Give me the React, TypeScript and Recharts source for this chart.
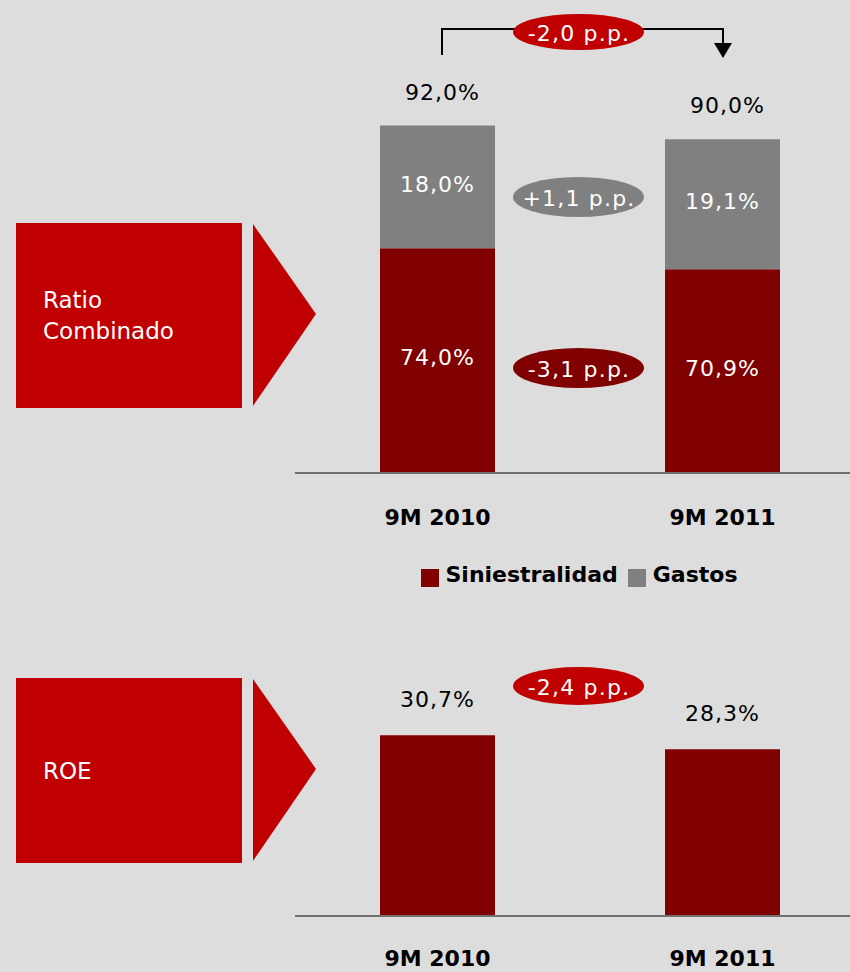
import React from "react";
import { BarChart, Bar, XAxis, YAxis, LabelList, Legend } from "recharts";

// categories and values
const categories = ["9M 2010", "9M 2011"];
const siniestralidad = [74.0, 70.9];
const gastos = [18.0, 19.1];
const totals = [92.0, 90.0];
const roe = [30.7, 28.3];
const seriesOrder = ["Siniestralidad", "Gastos"];

const deltaTotal = "-2,0 p.p.";
const deltaGastos = "+1,1 p.p.";
const deltaSiniestralidad = "-3,1 p.p.";
const deltaRoe = "-2,4 p.p.";

const RED = "#c00000";
const DARK_RED = "#800000";
const GRAY = "#808080";
const BG = "#dddddd";
const FONT = "'DejaVu Sans', sans-serif";

const ratioData = categories.map((name, i) => ({
    name,
    siniestralidad: siniestralidad[i],
    gastos: gastos[i],
    total: totals[i],
}));

const roeData = categories.map((name, i) => ({ name, roe: roe[i] }));

const fmt = (v: any) => `${Number(v).toFixed(1).replace(".", ",")}%`;

const tickStyle = { fill: "#000", fontSize: 22, fontWeight: "bold", fontFamily: FONT };
const innerLabel = { fill: "#fff", fontSize: 22, fontFamily: FONT, letterSpacing: 1 };
const outerLabel = { fill: "#000", fontSize: 22, fontFamily: FONT, letterSpacing: 1 };

function SectionBox({ top, lines }: { top: number; lines: string[] }) {
    return (
        <g>
            <rect x={16} y={top} width={226} height={185} fill={RED} />
            <polygon
                points={`253,${top + 1} 316,${top + 91} 253,${top + 183}`}
                fill={RED}
            />
            {lines.map((l, i) => (
                <text
                    key={l}
                    x={43}
                    y={top + 85 + i * 31 + (lines.length === 1 ? 16 : 0)}
                    fill="#fff"
                    fontSize={23}
                    fontFamily={FONT}
                >
                    {l}
                </text>
            ))}
        </g>
    );
}

function Pill({ cy, ry, fill, text }: { cy: number; ry: number; fill: string; text: string }) {
    return (
        <g>
            <ellipse cx={578.5} cy={cy} rx={65.5} ry={ry} fill={fill} />
            <text
                x={579}
                y={cy + 1}
                textAnchor="middle"
                dominantBaseline="central"
                fill="#fff"
                fontSize={22}
                fontFamily={FONT}
                letterSpacing={1.2}
            >
                {text}
            </text>
        </g>
    );
}

export default function App() {
    return (
        <div
            style={{
                position: "fixed",
                left: 0,
                top: 0,
                width: 850,
                height: 972,
                background: BG,
                overflow: "hidden",
                fontFamily: FONT,
            }}
        >
            <div style={{ position: "absolute", left: 295, top: 0 }}>
                <BarChart
                    width={570}
                    height={600}
                    data={ratioData}
                    margin={{ top: 3, right: 0, left: 0, bottom: 0 }}
                >
                    <XAxis
                        dataKey="name"
                        height={127}
                        tickLine={false}
                        tickMargin={30}
                        axisLine={{ stroke: "#707070", strokeWidth: 2 }}
                        tick={tickStyle}
                    />
                    <YAxis hide domain={[41, 110]} allowDataOverflow />
                    <Legend
                        verticalAlign="middle"
                        iconType="square"
                        iconSize={18}
                        itemSorter={(item: any) => seriesOrder.indexOf(item.value)}
                        wrapperStyle={{ top: 562, left: 4, width: 570 }}
                        formatter={(value: string) => (
                            <span
                                style={{
                                    color: "#000",
                                    fontWeight: "bold",
                                    fontSize: 22,
                                    fontFamily: FONT,
                                    paddingLeft: 3,
                                }}
                            >
                                {value}
                            </span>
                        )}
                    />
                    <Bar
                        dataKey="siniestralidad"
                        name="Siniestralidad"
                        stackId="a"
                        fill={DARK_RED}
                        barSize={115}
                        isAnimationActive={false}
                    >
                        <LabelList dataKey="siniestralidad" position="center" dy={-3} formatter={fmt} style={innerLabel} />
                    </Bar>
                    <Bar
                        dataKey="gastos"
                        name="Gastos"
                        stackId="a"
                        fill={GRAY}
                        barSize={115}
                        isAnimationActive={false}
                    >
                        <LabelList dataKey="gastos" position="center" dy={-3} formatter={fmt} style={innerLabel} />
                        <LabelList dataKey="total" position="top" offset={26} dx={5} formatter={fmt} style={outerLabel} />
                    </Bar>
                </BarChart>
            </div>

            <div style={{ position: "absolute", left: 295, top: 645 }}>
                <BarChart
                    width={570}
                    height={327}
                    data={roeData}
                    margin={{ top: 0, right: 0, left: 0, bottom: 0 }}
                >
                    <XAxis
                        dataKey="name"
                        height={56}
                        tickLine={false}
                        tickMargin={28}
                        axisLine={{ stroke: "#707070", strokeWidth: 2 }}
                        tick={tickStyle}
                    />
                    <YAxis hide domain={[0, 46]} />
                    <Bar dataKey="roe" fill={DARK_RED} barSize={115} isAnimationActive={false}>
                        <LabelList dataKey="roe" position="top" offset={28} formatter={fmt} style={outerLabel} />
                    </Bar>
                </BarChart>
            </div>

            <svg
                width={850}
                height={972}
                style={{ position: "absolute", left: 0, top: 0, pointerEvents: "none" }}
            >
                <SectionBox top={223} lines={["Ratio", "Combinado"]} />
                <SectionBox top={678} lines={["ROE"]} />
                <polyline
                    points="442,55 442,29 723,29 723,44"
                    fill="none"
                    stroke="#000"
                    strokeWidth={2}
                />
                <polygon points="714,43 732,43 723,58" fill="#000" />
                <Pill cy={32} ry={18} fill={RED} text={deltaTotal} />
                <Pill cy={197} ry={20} fill={GRAY} text={deltaGastos} />
                <Pill cy={368} ry={20} fill={DARK_RED} text={deltaSiniestralidad} />
                <Pill cy={686} ry={19} fill={RED} text={deltaRoe} />
            </svg>
        </div>
    );
}
